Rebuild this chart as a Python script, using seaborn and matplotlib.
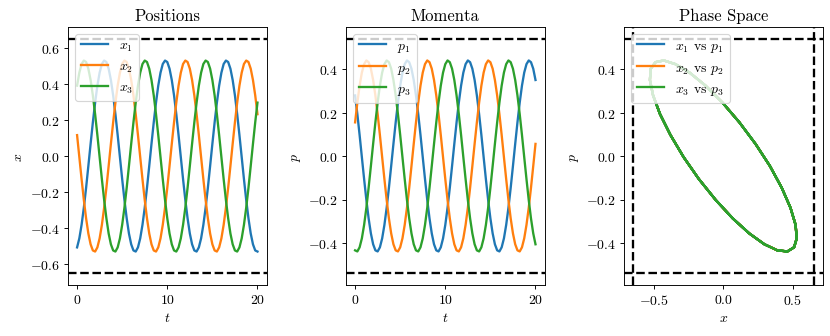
import matplotlib
matplotlib.use("Agg")
import matplotlib.pyplot as plt
import seaborn as sns

# time grid (t)
t = [0.0, 0.25, 0.5, 0.75, 1.0, 1.25, 1.5, 1.75, 2.0, 2.25, 2.5, 2.75, 3.0, 3.25, 3.5, 3.75,
     4.0, 4.25, 4.5, 4.75, 5.0, 5.25, 5.5, 5.75, 6.0, 6.25, 6.5, 6.75, 7.0, 7.25, 7.5, 7.75,
     8.0, 8.25, 8.5, 8.75, 9.0, 9.25, 9.5, 9.75, 10.0, 10.25, 10.5, 10.75, 11.0, 11.25, 11.5, 11.75,
     12.0, 12.25, 12.5, 12.75, 13.0, 13.25, 13.5, 13.75, 14.0, 14.25, 14.5, 14.75, 15.0, 15.25, 15.5, 15.75,
     16.0, 16.25, 16.5, 16.75, 17.0, 17.25, 17.5, 17.75, 18.0, 18.25, 18.5, 18.75, 19.0, 19.25, 19.5, 19.75, 20.0]

x1 = [-0.506, -0.456, -0.381, -0.286, -0.176, -0.055, 0.068, 0.187, 0.296, 0.390, 0.462, 0.510, 0.529, 0.521,
      0.484, 0.421, 0.336, 0.232, 0.116, -0.006, -0.128, -0.243, -0.345, -0.429, -0.489, -0.523, -0.529,
      -0.506, -0.456, -0.381, -0.286, -0.176, -0.055, 0.068, 0.187, 0.296, 0.390, 0.462, 0.510, 0.529, 0.521,
      0.484, 0.421, 0.336, 0.232, 0.116, -0.006, -0.128, -0.243, -0.345, -0.429, -0.489, -0.523, -0.529,
      -0.506, -0.456, -0.381, -0.286, -0.176, -0.055, 0.068, 0.187, 0.296, 0.390, 0.462, 0.510, 0.529, 0.521,
      0.484, 0.421, 0.336, 0.232, 0.116, -0.006, -0.128, -0.243, -0.345, -0.429, -0.489, -0.523, -0.529]

x2 = [0.116, -0.006, -0.128, -0.243, -0.345, -0.429, -0.489, -0.523, -0.529,
      -0.506, -0.456, -0.381, -0.286, -0.176, -0.055, 0.068, 0.187, 0.296, 0.390, 0.462, 0.510, 0.529, 0.521,
      0.484, 0.421, 0.336, 0.232, 0.116, -0.006, -0.128, -0.243, -0.345, -0.429, -0.489, -0.523, -0.529,
      -0.506, -0.456, -0.381, -0.286, -0.176, -0.055, 0.068, 0.187, 0.296, 0.390, 0.462, 0.510, 0.529, 0.521,
      0.484, 0.421, 0.336, 0.232, 0.116, -0.006, -0.128, -0.243, -0.345, -0.429, -0.489, -0.523, -0.529,
      -0.506, -0.456, -0.381, -0.286, -0.176, -0.055, 0.068, 0.187, 0.296, 0.390, 0.462, 0.510, 0.529, 0.521,
      0.484, 0.421, 0.336, 0.232]

x3 = [0.390, 0.462, 0.510, 0.529, 0.521, 0.484, 0.421, 0.336, 0.232, 0.116, -0.006, -0.128, -0.243, -0.345,
      -0.429, -0.489, -0.523, -0.529,
      -0.506, -0.456, -0.381, -0.286, -0.176, -0.055, 0.068, 0.187, 0.296, 0.390, 0.462, 0.510, 0.529, 0.521,
      0.484, 0.421, 0.336, 0.232, 0.116, -0.006, -0.128, -0.243, -0.345, -0.429, -0.489, -0.523, -0.529,
      -0.506, -0.456, -0.381, -0.286, -0.176, -0.055, 0.068, 0.187, 0.296, 0.390, 0.462, 0.510, 0.529, 0.521,
      0.484, 0.421, 0.336, 0.232, 0.116, -0.006, -0.128, -0.243, -0.345, -0.429, -0.489, -0.523, -0.529,
      -0.506, -0.456, -0.381, -0.286, -0.176, -0.055, 0.068, 0.187, 0.296]

p1 = [0.279, 0.193, 0.097, -0.005, -0.106, -0.202, -0.287, -0.356, -0.406, -0.434, -0.439,
      -0.420, -0.379, -0.317, -0.238, -0.146, -0.046, 0.056, 0.155, 0.246, 0.324, 0.384, 0.423, 0.440, 0.432,
      0.402, 0.350, 0.279, 0.193, 0.097, -0.005, -0.106, -0.202, -0.287, -0.356, -0.406, -0.434, -0.439,
      -0.420, -0.379, -0.317, -0.238, -0.146, -0.046, 0.056, 0.155, 0.246, 0.324, 0.384, 0.423, 0.440, 0.432,
      0.402, 0.350, 0.279, 0.193, 0.097, -0.005, -0.106, -0.202, -0.287, -0.356, -0.406, -0.434, -0.439,
      -0.420, -0.379, -0.317, -0.238, -0.146, -0.046, 0.056, 0.155, 0.246, 0.324, 0.384, 0.423, 0.440, 0.432,
      0.402, 0.350]

p2 = [0.155, 0.246, 0.324, 0.384, 0.423, 0.440, 0.432, 0.402, 0.350, 0.279, 0.193, 0.097, -0.005, -0.106,
      -0.202, -0.287, -0.356, -0.406, -0.434, -0.439,
      -0.420, -0.379, -0.317, -0.238, -0.146, -0.046, 0.056, 0.155, 0.246, 0.324, 0.384, 0.423, 0.440, 0.432,
      0.402, 0.350, 0.279, 0.193, 0.097, -0.005, -0.106, -0.202, -0.287, -0.356, -0.406, -0.434, -0.439,
      -0.420, -0.379, -0.317, -0.238, -0.146, -0.046, 0.056, 0.155, 0.246, 0.324, 0.384, 0.423, 0.440, 0.432,
      0.402, 0.350, 0.279, 0.193, 0.097, -0.005, -0.106, -0.202, -0.287, -0.356, -0.406, -0.434, -0.439,
      -0.420, -0.379, -0.317, -0.238, -0.146, -0.046, 0.056]

p3 = [-0.434, -0.439,
      -0.420, -0.379, -0.317, -0.238, -0.146, -0.046, 0.056, 0.155, 0.246, 0.324, 0.384, 0.423, 0.440, 0.432,
      0.402, 0.350, 0.279, 0.193, 0.097, -0.005, -0.106, -0.202, -0.287, -0.356, -0.406, -0.434, -0.439,
      -0.420, -0.379, -0.317, -0.238, -0.146, -0.046, 0.056, 0.155, 0.246, 0.324, 0.384, 0.423, 0.440, 0.432,
      0.402, 0.350, 0.279, 0.193, 0.097, -0.005, -0.106, -0.202, -0.287, -0.356, -0.406, -0.434, -0.439,
      -0.420, -0.379, -0.317, -0.238, -0.146, -0.046, 0.056, 0.155, 0.246, 0.324, 0.384, 0.423, 0.440, 0.432,
      0.402, 0.350, 0.279, 0.193, 0.097, -0.005, -0.106, -0.202, -0.287, -0.356, -0.406]

x_bound = 0.65
p_bound = 0.54

titles = ["Positions", "Momenta", "Phase Space"]
x_labels = ["$x_1$", "$x_2$", "$x_3$"]
p_labels = ["$p_1$", "$p_2$", "$p_3$"]
phase_labels = ["$x_1$ vs $p_1$", "$x_2$ vs $p_2$", "$x_3$ vs $p_3$"]
t_ticks = [0, 10, 20]

plt.rcParams["font.family"] = "serif"
plt.rcParams["font.serif"] = ["cmr10", "DejaVu Serif"]
plt.rcParams["mathtext.fontset"] = "cm"
plt.rcParams["axes.formatter.use_mathtext"] = True
plt.rcParams["axes.unicode_minus"] = True
plt.rcParams["font.size"] = 12
plt.rcParams["axes.titlesize"] = 14.4
plt.rcParams["axes.labelsize"] = 12
plt.rcParams["xtick.labelsize"] = 12
plt.rcParams["ytick.labelsize"] = 12
plt.rcParams["legend.fontsize"] = 12

colors = ["#1f77b4", "#ff7f0e", "#2ca02c"]
xs = [x1, x2, x3]
ps = [p1, p2, p3]
LW = 2.0

fig, axes = plt.subplots(1, 3, figsize=(10, 4.06), dpi=83)
fig.subplots_adjust(left=0.082, right=0.991, top=0.917, bottom=0.151, wspace=0.401)

ax = axes[0]
for xi, lab, c in zip(xs, x_labels, colors):
    sns.lineplot(x=t, y=xi, ax=ax, label=lab, color=c, lw=LW, estimator=None)
ax.axhline(x_bound, color="k", ls="--", lw=LW)
ax.axhline(-x_bound, color="k", ls="--", lw=LW)
ax.set_title(titles[0])
ax.set_xlabel("$t$")
ax.set_ylabel("$x$")
ax.set_xticks(t_ticks)
ax.legend(loc="upper left")

ax = axes[1]
for pi, lab, c in zip(ps, p_labels, colors):
    sns.lineplot(x=t, y=pi, ax=ax, label=lab, color=c, lw=LW, estimator=None)
ax.axhline(p_bound, color="k", ls="--", lw=LW)
ax.axhline(-p_bound, color="k", ls="--", lw=LW)
ax.set_title(titles[1])
ax.set_xlabel("$t$")
ax.set_ylabel("$p$")
ax.set_xticks(t_ticks)
ax.legend(loc="upper left")

ax = axes[2]
for xi, pi, lab, c in zip(xs, ps, phase_labels, colors):
    sns.lineplot(x=xi, y=pi, ax=ax, label=lab, color=c, lw=LW, sort=False, estimator=None)
ax.axvline(x_bound, color="k", ls="--", lw=LW)
ax.axvline(-x_bound, color="k", ls="--", lw=LW)
ax.axhline(p_bound, color="k", ls="--", lw=LW)
ax.axhline(-p_bound, color="k", ls="--", lw=LW)
ax.set_title(titles[2])
ax.set_xlabel("$x$")
ax.set_ylabel("$p$")
ax.legend(loc="upper left")

fig.savefig("out.png", dpi=83)
